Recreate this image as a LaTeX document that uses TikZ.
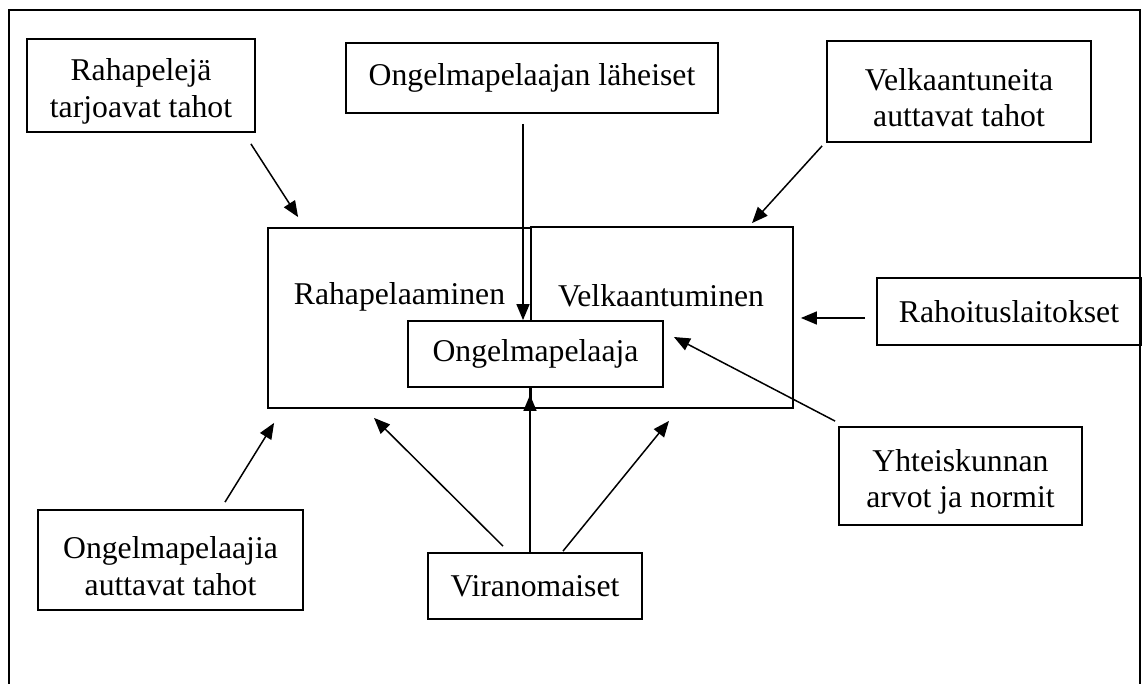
\documentclass[tikz,border=0pt]{standalone}
\usepackage{fontspec}
\setmainfont{Liberation Serif}
\usetikzlibrary{arrows.meta}
\newcommand{\toplift}{\rule{0pt}{34pt}}
\begin{document}
\begin{tikzpicture}[x=1pt,y=-1pt,
  box/.style={draw=black,line width=1.8pt,rectangle,inner sep=0pt,align=center,
    font=\fontsize{31.7}{36.5}\selectfont},
  txt/.style={inner sep=0pt,align=center,font=\fontsize{31.7}{36.5}\selectfont},
  arr/.style={line width=1.5pt,-{Triangle[length=16pt,width=13pt]}},
  frame/.style={line width=1.8pt}]
\useasboundingbox (0,0) rectangle (1144,684);
\draw[frame] (9,690) -- (9,10) -- (1140,10) -- (1140,690);
% top boxes
\node[box,minimum width=228pt,minimum height=93pt] (rp) at (141,85.5) {\toplift Rahapelejä\\tarjoavat tahot};
\node[box,minimum width=372pt,minimum height=70pt] (lah) at (532,78) {Ongelmapelaajan läheiset};
\node[box,minimum width=264pt,minimum height=101pt] (vat) at (959,91.5) {\toplift Velkaantuneita\\auttavat tahot};
% central boxes
\node[box,minimum width=263pt,minimum height=180pt] (rpl) at (399.5,318) {};
\node[box,minimum width=262pt,minimum height=181pt] (vel) at (662,317.5) {};
\node[txt] (rpltxt) at (399.5,297) {Rahapelaaminen};
\node[txt] (veltxt) at (661,296) {Velkaantuminen};
\node[box,fill=white,minimum width=255pt,minimum height=66pt] (op) at (535.5,354) {Ongelmapelaaja};
% side and bottom boxes
\node[box,minimum width=264pt,minimum height=67pt] (rl) at (1009,311.5) {Rahoituslaitokset};
\node[box,minimum width=243pt,minimum height=98pt] (yk) at (960.5,476) {\toplift Yhteiskunnan\\arvot ja normit};
\node[box,minimum width=265pt,minimum height=100pt] (oat) at (170.5,560) {\toplift Ongelmapelaajia\\auttavat tahot};
\node[box,minimum width=214pt,minimum height=66pt] (vir) at (535,586) {Viranomaiset};
% connectors
\draw[arr] ([shift={(-5,11)}]rp.south east) -- ([shift={(31,-10)}]rpl.north west);
\draw[arr] ([shift={(-9,10)}]lah.south) -- ([shift={(-12.5,0)}]op.north);
\draw[arr] ([shift={(-4,3)}]vat.south west) -- ([shift={(90,-3)}]vel.north);
\draw[arr] ([shift={(-11,6.5)}]rl.west) -- ([shift={(7,0.5)}]vel.east);
\draw[arr] ([shift={(-3,-5)}]yk.north west) -- ([shift={(10,-17)}]op.east);
\draw[arr] ([shift={(54.5,-7)}]oat.north) -- ([shift={(7,14)}]rpl.south west);
\draw[arr] ([shift={(-32,-6)}]vir.north) -- ([shift={(-25.5,9)}]rpl.south);
\draw[line width=1.5pt] ([xshift=-5]vir.north) -- ([xshift=-5.5]op.south);
\draw[arr] ([xshift=-5]vir.north) -- ([shift={(-5.5,7)}]op.south);
\draw[arr] ([shift={(28,-1)}]vir.north) -- ([shift={(7,12)}]vel.south);
\end{tikzpicture}
\end{document}
